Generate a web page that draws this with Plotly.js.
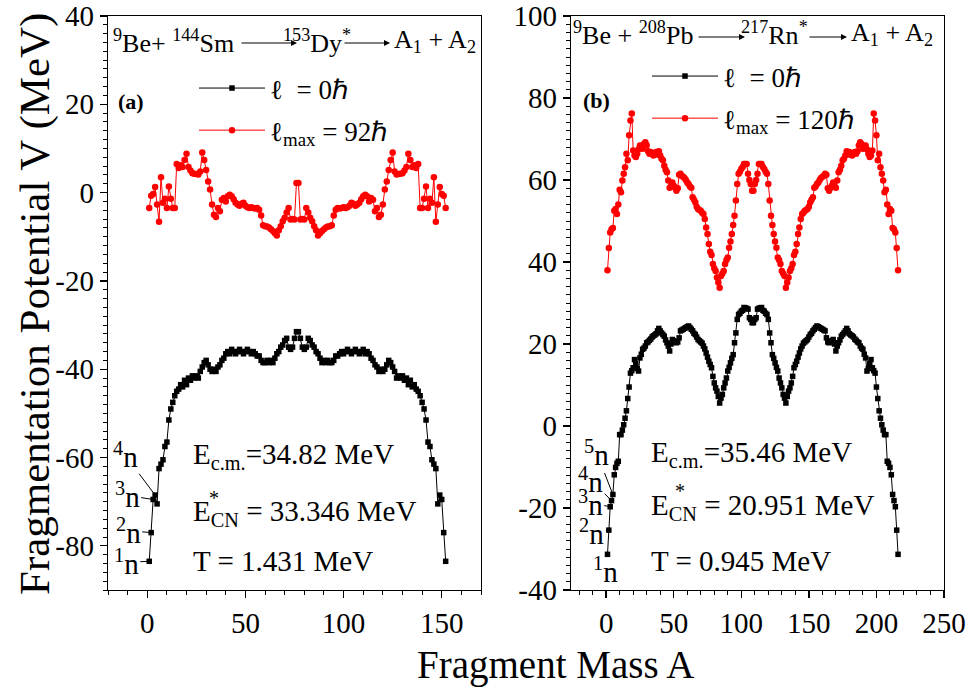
<!DOCTYPE html>
<html><head><meta charset="utf-8">
<script src="https://cdn.plot.ly/plotly-3.0.1.min.js"></script>
<style>html,body{margin:0;padding:0;background:#fff}#chart{width:970px;height:691px}</style>
</head><body><div id="chart"></div>
<script>
// Fragment masses A1 for 153Dy* (1..152) and 217Rn* (1..216)
const massDy = []; for (let a = 1; a <= 152; a++) massDy.push(a);
const massRn = []; for (let a = 1; a <= 216; a++) massRn.push(a);

// Panel (a): 9Be + 144Sm -> 153Dy*
const dyL0 = [-83.5,-77,-69.5,-68.5,-70.5,-62.5,-61.5,-60.5,-57.5,-56.5,
-51.5,-49,-47.5,-46,-45,-44.5,-43.5,-44,-42.5,-43.5,
-42,-42.5,-41.5,-42,-41.5,-42,-40.5,-39.5,-38.5,-38,
-39,-40,-40.5,-40,-40.5,-39.5,-39,-38,-37.5,-36.5,
-36,-36.5,-35.5,-36,-36.5,-36,-35.5,-36,-36.5,-36,
-35.5,-36,-36.5,-36,-36.5,-37,-37,-38,-38.5,-38.5,
-38,-38.5,-38,-38.5,-37.5,-36.5,-36,-35,-34.5,-33.5,
-33,-35,-35.5,-35,-33,-31.5,
-31.5,-33,-35,-35.5,-35,-33,
-33.5,-34.5,-35,-36,-36.5,-37.5,-38.5,-38,-38.5,-38,
-38.5,-38.5,-38,-37,-37,-36.5,-36,-36.5,-36,-35.5,
-36,-36.5,-36,-35.5,-36,-36.5,-36,-35.5,-36.5,-36,
-36.5,-37.5,-38,-39,-39.5,-40.5,-40,-40.5,-40,-39,
-38,-38.5,-39.5,-40.5,-42,-41.5,-42,-41.5,-42.5,-42,
-43.5,-42.5,-44,-43.5,-44.5,-45,-46,-47.5,-49,-51.5,
-56.5,-57.5,-60.5,-61.5,-62.5,-70.5,-68.5,-69.5,-77,-83.5];

const dyLmax = [-3.5,-0.7,-0.3,1.3,-2.7,-6.6,3.5,-2.3,-1.4,-3.5,
1.4,-1.4,-3.5,-3.5,6.5,5.6,6.2,5.8,7.4,8.8,
5.8,5,4.4,4.3,4.2,4.1,4.8,9.1,7.4,5.1,
2.5,0.7,-2.7,-5,-5.5,-3.5,-4.2,-1.6,-1.2,-2,
-0.8,-0.5,-0.8,-1.5,-2.3,-2.7,-3,-2.5,-2.3,-3,
-3.3,-3.5,-3.3,-3.5,-3.6,-3.5,-3.9,-5.2,-7.4,-7.6,
-7.7,-7.9,-8.3,-8.7,-9.2,-9.7,-8.5,-7.6,-6.5,-5.7,
-4.5,-3.5,-6.1,-6,-6.1,2.2,
2.2,-6.1,-6,-6.1,-3.5,-4.5,
-5.7,-6.5,-7.6,-8.5,-9.7,-9.2,-8.7,-8.3,-7.9,-7.7,
-7.6,-7.4,-5.2,-3.9,-3.5,-3.6,-3.5,-3.3,-3.5,-3.3,
-3,-2.3,-2.5,-3,-2.7,-2.3,-1.5,-0.8,-0.5,-0.8,
-2,-1.2,-1.6,-4.2,-3.5,-5.5,-5,-2.7,0.7,2.5,
5.1,7.4,9.1,4.8,4.1,4.2,4.3,4.4,5,5.8,
8.8,7.4,5.8,6.2,5.6,6.5,-3.5,-3.5,-1.4,1.4,
-3.5,-1.4,-2.3,3.5,-6.6,-2.7,1.3,-0.3,-0.7,-3.5];

// Panel (b): 9Be + 208Pb -> 217Rn*
const rnL0 = [-31.3,-25.4,-19.7,-18.2,-16.7,-11.9,-10.1,-9.1,-8.6,-2.1,
-2.1,-1,0.3,1.9,3.7,6.7,9.5,12.9,13.5,14.2,
16.2,15.2,14,13.4,16.6,17.5,18.7,19,19.5,20.3,
20.5,20.9,21.2,21.7,22,22.2,22.5,23.2,23.8,23.2,
22.7,22.3,21.9,21,20.3,19.5,18.3,20,21.1,20.8,
20.5,20.3,20.5,21.5,23.2,23.4,23.6,23.8,24,24.2,
24.4,24,23.6,23.2,22.6,22.3,21.7,21.1,20.8,20.5,
20.2,19.5,18.8,17.8,16.8,15.8,15,14.2,12.1,10.5,
9.3,8.5,7.2,5.6,6.8,7.7,9.3,10.5,11.7,13.4,
14.3,15.4,16.5,17.4,20.3,22.7,26,27.2,27.5,28,
28.2,28.9,28.8,28.7,28.5,26.4,26,25.2,
25.2,26,26.4,28.5,28.7,28.8,28.9,28.2,
28,27.5,27.2,26,22.7,20.3,17.4,16.5,15.4,14.3,
13.4,11.7,10.5,9.3,7.7,6.8,5.6,7.2,8.5,9.3,
10.5,12.1,14.2,15,15.8,16.8,17.8,18.8,19.5,20.2,
20.5,20.8,21.1,21.7,22.3,22.6,23.2,23.6,24,24.4,
24.2,24,23.8,23.6,23.4,23.2,21.5,20.5,20.3,20.5,
20.8,21.1,20,18.3,19.5,20.3,21,21.9,22.3,22.7,
23.2,23.8,23.2,22.5,22.2,22,21.7,21.2,20.9,20.5,
20.3,19.5,19,18.7,17.5,16.6,13.4,14,15.2,16.2,
14.2,13.5,12.9,9.5,6.7,3.7,1.9,0.3,-1,-2.1,
-2.1,-8.6,-9.1,-10.1,-11.9,-16.7,-18.2,-19.7,-25.4,-31.3];

const rnLmax = [38,43.4,47.2,48,48.3,52.5,52.9,51.7,54,57.6,
57,59.9,61.5,63.1,66.4,64.8,70.9,74.5,76.2,67.2,
66,65.6,66.4,67.5,68.4,68,67.6,68.8,69.2,68.5,
67,66.4,66.8,66.5,66,66.3,66.8,66.2,67,66,
65.2,64.8,63.5,62.5,61.9,59.9,58.1,58.5,59.4,58.6,
58.1,57.4,58,61.3,61.5,61,60.8,60.5,60,59.4,
59,58.4,58.1,55.8,55.2,54.6,53.5,52.9,52.7,52.5,
52,51.7,50.5,48.4,46.8,44.4,42.5,41.7,39.5,38.5,
37.8,36.2,35,33.7,36.6,37.2,37.8,39.5,40.5,41.1,
43.5,45,46.8,49,51.3,55,59,61.5,62,62.7,
63.2,63.9,63.9,63.9,61.5,60,59,57.4,
57.4,59,60,61.5,63.9,63.9,63.9,63.2,
62.7,62,61.5,59,55,51.3,49,46.8,45,43.5,
41.1,40.5,39.5,37.8,37.2,36.6,33.7,35,36.2,37.8,
38.5,39.5,41.7,42.5,44.4,46.8,48.4,50.5,51.7,52,
52.5,52.7,52.9,53.5,54.6,55.2,55.8,58.1,58.4,59,
59.4,60,60.5,60.8,61,61.5,61.3,58,57.4,58.1,
58.6,59.4,58.5,58.1,59.9,61.9,62.5,63.5,64.8,65.2,
66,67,66.2,66.8,66.3,66,66.5,66.8,66.4,67,
68.5,69.2,68.8,67.6,68,68.4,67.5,66.4,65.6,66,
67.2,76.2,74.5,70.9,64.8,66.4,63.1,61.5,59.9,57,
57.6,54,51.7,52.9,52.5,48.3,48,47.2,43.4,38];

const xTicksA = [0, 50, 100, 150];
const xTicksB = [0, 50, 100, 150, 200, 250];
const yTicksA = [-80, -60, -40, -20, 0, 20, 40];
const yTicksB = [-40, -20, 0, 20, 40, 60, 80, 100];
const lbl = v => v.map(String);

const FONT = 'Liberation Serif, Times New Roman, serif';
const W = 970, H = 691;
const P = (x, y) => ({x: x / W, y: 1 - y / H, xref: 'paper', yref: 'paper'});
const yDom = [1 - 590 / H, 1 - 16 / H];

function axisX(domain, range, ticks, anchor) {
  return {domain, range, anchor, tickmode: 'array', tickvals: ticks, ticktext: lbl(ticks),
    ticks: 'outside', ticklen: 7, tickwidth: 1.3, tickcolor: '#000',
    minor: {tickmode: 'linear', tick0: 0, dtick: 10, ticks: 'outside', ticklen: 4, tickwidth: 1, tickcolor: '#000', showgrid: false},
    showline: true, linecolor: '#000', linewidth: 1.3, mirror: true,
    showgrid: false, zeroline: false, tickfont: {family: FONT, size: 29, color: '#000'}};
}
function axisY(range, ticks, anchor) {
  return {domain: yDom, range, anchor, tickmode: 'array', tickvals: ticks, ticktext: lbl(ticks),
    ticks: 'outside', ticklen: 7, tickwidth: 1.3, tickcolor: '#000',
    minor: {tickmode: 'linear', tick0: 0, dtick: 2, ticks: 'outside', ticklen: 4, tickwidth: 1, tickcolor: '#000', showgrid: false},
    showline: true, linecolor: '#000', linewidth: 1.3, mirror: true,
    showgrid: false, zeroline: false, tickfont: {family: FONT, size: 29, color: '#000'}};
}

const blackStyle = {mode: 'lines+markers', line: {color: '#000', width: 1}, marker: {symbol: 'square', size: 5.5, color: '#000'}};
const redStyle = {mode: 'lines+markers', line: {color: '#ff0000', width: 1}, marker: {symbol: 'circle', size: 6.5, color: '#ff0000'}};

const traces = [
  Object.assign({x: massDy, y: dyL0, xaxis: 'x', yaxis: 'y', name: 'ℓ\u00a0\u00a0= 0ℏ', legend: 'legend', legendgroup: 'a0'}, blackStyle),
  Object.assign({x: massDy, y: dyLmax, xaxis: 'x', yaxis: 'y', name: 'ℓ<sub>max</sub> = 92ℏ', legend: 'legend', legendgroup: 'a1'}, redStyle),
  Object.assign({x: massRn, y: rnL0, xaxis: 'x2', yaxis: 'y2', name: 'ℓ\u00a0\u00a0= 0ℏ', legend: 'legend2', legendgroup: 'b0'}, blackStyle),
  Object.assign({x: massRn, y: rnLmax, xaxis: 'x2', yaxis: 'y2', name: 'ℓ<sub>max</sub> = 120ℏ', legend: 'legend2', legendgroup: 'b1'}, redStyle)
];

const tf = (size, extra) => Object.assign({font: {family: FONT, size: size, color: '#000'}, showarrow: false}, extra);
const arrow = (x, y, ax) => Object.assign(P(x, y), {text: '', showarrow: true, ax: ax, ay: 0, arrowhead: 2, arrowsize: 1, arrowwidth: 1.2, arrowcolor: '#000', standoff: 0, startstandoff: 0});
const nLabel = (k, xr, yr, A, V, ax, ay) => ({x: A, y: V, xref: xr, yref: yr, text: '<sup>' + k + '</sup>n', showarrow: true, ax: ax, ay: ay, arrowhead: 0, arrowwidth: 1, arrowcolor: '#000', standoff: 2, font: {family: FONT, size: 29, color: '#000'}});

const annotations = [
  // titles
  tf(43, Object.assign(P(35, 304), {text: 'Fragmentation Potential V (MeV)', textangle: -90, xanchor: 'center', yanchor: 'middle'})),
  tf(39, Object.assign(P(555, 665), {text: 'Fragment Mass A', xanchor: 'center', yanchor: 'middle'})),
  // panel (a) reaction
  tf(26, Object.assign(P(111, 41), {text: '<sup>9</sup>Be+ <sup>144</sup>Sm', xanchor: 'left', yanchor: 'middle'})),
  arrow(297, 43, -57),
  tf(26, Object.assign(P(281, 41), {text: '<sup>153</sup>Dy<sup>*</sup>', xanchor: 'left', yanchor: 'middle'})),
  arrow(390, 43, -47),
  tf(26, Object.assign(P(392, 41), {text: 'A<sub>1</sub> + A<sub>2</sub>', xanchor: 'left', yanchor: 'middle'})),
  tf(22, Object.assign(P(116, 101), {text: '<b>(a)</b>', xanchor: 'left', yanchor: 'middle'})),
  // panel (a) energies
  tf(29, Object.assign(P(191, 456), {text: 'E<sub>c.m.</sub>=34.82 MeV', xanchor: 'left', yanchor: 'middle'})),
  tf(29, Object.assign(P(191, 513), {text: 'E<sub>CN</sub> = 33.346 MeV', xanchor: 'left', yanchor: 'middle'})),
  tf(20, Object.assign(P(214, 498), {text: '*', xanchor: 'center', yanchor: 'middle'})),
  tf(29, Object.assign(P(191, 561), {text: 'T = 1.431 MeV', xanchor: 'left', yanchor: 'middle'})),
  // panel (a) n labels
  nLabel(4, 'x', 'y', massDy[3], dyL0[3], -30, -40),
  nLabel(3, 'x', 'y', massDy[2], dyL0[2], -26, -4),
  nLabel(2, 'x', 'y', massDy[1], dyL0[1], -23, -2),
  nLabel(1, 'x', 'y', massDy[0], dyL0[0], -23, 1),
  // panel (b) reaction
  tf(26, Object.assign(P(571, 34), {text: '<sup>9</sup>Be + <sup>208</sup>Pb', xanchor: 'left', yanchor: 'middle'})),
  arrow(745, 37, -48),
  tf(26, Object.assign(P(739, 34), {text: '<sup>217</sup>Rn<sup>*</sup>', xanchor: 'left', yanchor: 'middle'})),
  arrow(847, 37, -39),
  tf(26, Object.assign(P(849, 34), {text: 'A<sub>1</sub> + A<sub>2</sub>', xanchor: 'left', yanchor: 'middle'})),
  tf(22, Object.assign(P(581, 100), {text: '<b>(b)</b>', xanchor: 'left', yanchor: 'middle'})),
  // panel (b) energies
  tf(29, Object.assign(P(649, 454), {text: 'E<sub>c.m.</sub>=35.46 MeV', xanchor: 'left', yanchor: 'middle'})),
  tf(29, Object.assign(P(649, 507), {text: 'E<sub>CN</sub> = 20.951 MeV', xanchor: 'left', yanchor: 'middle'})),
  tf(20, Object.assign(P(680, 491), {text: '*', xanchor: 'center', yanchor: 'middle'})),
  tf(29, Object.assign(P(649, 561), {text: 'T = 0.945 MeV', xanchor: 'left', yanchor: 'middle'})),
  // panel (b) n labels
  nLabel(5, 'x2', 'y2', massRn[4], rnL0[4], -16, -41),
  nLabel(4, 'x2', 'y2', massRn[3], rnL0[3], -21, -21),
  nLabel(3, 'x2', 'y2', massRn[2], rnL0[2], -20, -4),
  nLabel(2, 'x2', 'y2', massRn[1], rnL0[1], -17, 2),
  tf(29, Object.assign(P(605, 570), {text: '<sup>1</sup>n', xanchor: 'center', yanchor: 'middle'}))
];

const legendBase = {font: {family: FONT, size: 27, color: '#000'}, bgcolor: 'rgba(0,0,0,0)', borderwidth: 0,
  itemwidth: 66, tracegroupgap: 4, traceorder: 'grouped', xanchor: 'left', yanchor: 'top'};

const layout = {
  width: W, height: H, margin: {l: 0, r: 0, t: 0, b: 0},
  paper_bgcolor: '#fff', plot_bgcolor: '#fff',
  font: {family: FONT, color: '#000'},
  showlegend: true,
  xaxis: axisX([108 / W, 481 / W], [-20, 170], xTicksA, 'y'),
  yaxis: axisY([-90, 40], yTicksA, 'x'),
  xaxis2: axisX([571 / W, 944 / W], [-26, 250], xTicksB, 'y2'),
  yaxis2: axisY([-40, 100], yTicksB, 'x2'),
  legend: Object.assign({x: 194 / W, y: 1 - 64 / H}, legendBase),
  legend2: Object.assign({x: 647 / W, y: 1 - 52 / H}, legendBase),
  annotations: annotations
};

Plotly.newPlot('chart', traces, layout, {displayModeBar: false, staticPlot: true});
</script>
</body></html>
